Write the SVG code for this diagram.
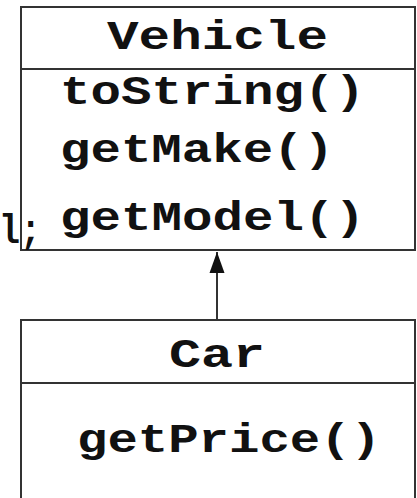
<svg xmlns="http://www.w3.org/2000/svg" width="417" height="498" viewBox="0 0 417 498">
<style>
.box{fill:#fff;stroke:#333;stroke-width:2}
.div{stroke:#333;stroke-width:2}
.t{font-family:"Liberation Mono","Courier New",monospace;font-weight:bold;font-size:40px;fill:#111}
</style>
<defs>
<marker id="tri" markerWidth="22" markerHeight="16" refX="21" refY="8" orient="auto" markerUnits="userSpaceOnUse" viewBox="0 0 22 16">
<path d="M21 8 L0 0.5 L0 15.5 Z" fill="#111"/>
</marker>
</defs>
<rect width="417" height="498" fill="#fff"/>
<g id="vehicle">
<rect class="box" x="21" y="7" width="394" height="243"/>
<line class="div" x1="21" y1="69" x2="415" y2="69"/>
<text class="t" x="107" y="49" textLength="221" lengthAdjust="spacingAndGlyphs">Vehicle</text>
<text class="t" x="60" y="104" textLength="305" lengthAdjust="spacingAndGlyphs">toString()</text>
<text class="t" x="60" y="162" textLength="274" lengthAdjust="spacingAndGlyphs">getMake()</text>
<text class="t" x="60" y="230" textLength="305" lengthAdjust="spacingAndGlyphs">getModel()</text>
</g>
<g id="car">
<rect class="box" x="21" y="320" width="394" height="200"/>
<line class="div" x1="21" y1="383" x2="415" y2="383"/>
<text class="t" x="169" y="367" textLength="96" lengthAdjust="spacingAndGlyphs">Car</text>
<text class="t" x="77" y="452" textLength="304" lengthAdjust="spacingAndGlyphs">getPrice()</text>
</g>
<g id="connectors">
<line x1="217" y1="320" x2="217" y2="252" stroke="#333" stroke-width="2" marker-end="url(#tri)"/>
</g>
<text class="t" x="-1" y="243" textLength="42" lengthAdjust="spacingAndGlyphs">l;</text>
</svg>
